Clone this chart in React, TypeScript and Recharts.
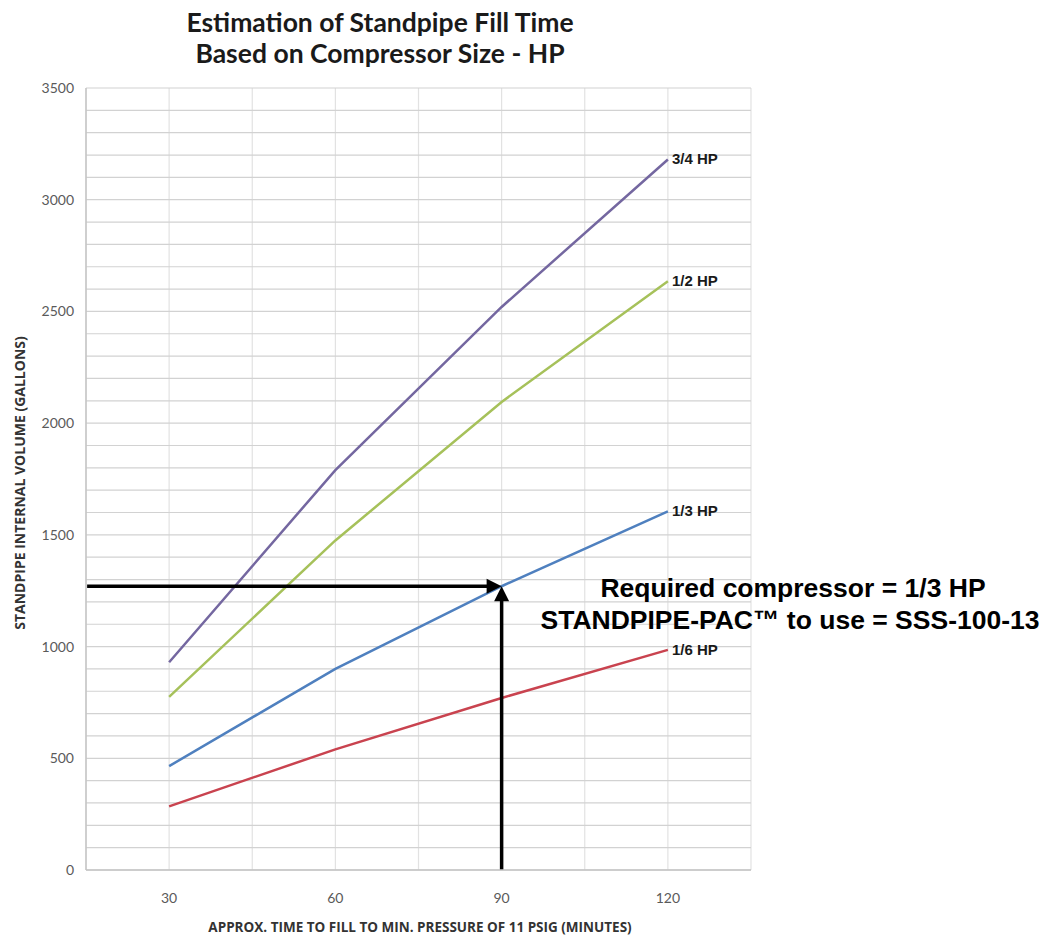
import React from 'react';
import { LineChart, Line, XAxis, YAxis, CartesianGrid, ReferenceLine } from 'recharts';

// ---- data ----
const times = [30, 60, 90, 120];
const hp34 = [930, 1790, 2520, 3180];
const hp12 = [775, 1475, 2095, 2635];
const hp13 = [465, 900, 1270, 1605];
const hp16 = [285, 540, 770, 985];
const seriesNames = ['3/4 HP', '1/2 HP', '1/3 HP', '1/6 HP'];

const xGridTicks = [15, 30, 45, 60, 75, 90, 105, 120, 135];
const xTickLabels = [30, 60, 90, 120];
const yGridTicks = [
  0, 100, 200, 300, 400, 500, 600, 700, 800, 900, 1000, 1100, 1200, 1300, 1400, 1500, 1600, 1700,
  1800, 1900, 2000, 2100, 2200, 2300, 2400, 2500, 2600, 2700, 2800, 2900, 3000, 3100, 3200, 3300,
  3400, 3500,
];
const yTickLabels = [0, 500, 1000, 1500, 2000, 2500, 3000, 3500];

const targetTime = 90;
const targetVolume = 1270;
const chartTitle = ['Estimation of Standpipe Fill Time', 'Based on Compressor Size - HP'];
const xAxisTitle = 'APPROX. TIME TO FILL TO MIN. PRESSURE OF 11 PSIG (MINUTES)';
const yAxisTitle = 'STANDPIPE INTERNAL VOLUME (GALLONS)';
const noteLines = ['Required compressor = 1/3 HP', 'STANDPIPE-PAC\u2122 to use = SSS-100-13'];

const rows = times.map((t, i) => ({
  time: t,
  hp34: hp34[i],
  hp12: hp12[i],
  hp13: hp13[i],
  hp16: hp16[i],
}));

const W = 1043;
const H = 933;
const OY = 8; // overlay svg starts at page top

const endLabel = (name: string) => (props: any) => {
  if (props.index !== times.length - 1) return null;
  return (
    <text
      x={props.x + 4}
      y={props.y + 5}
      fontFamily="'Liberation Sans', Arial, sans-serif"
      fontWeight="bold"
      fontSize={15}
      fill="#1a1a1a"
    >
      {name}
    </text>
  );
};

const Arrow = (props: any) => {
  const { x1, y1, x2, y2 } = props;
  const dx = x2 - x1;
  const dy = y2 - y1;
  const len = Math.hypot(dx, dy) || 1;
  const ux = dx / len;
  const uy = dy / len;
  const head = 15;
  const hw = 7.5;
  const bx = x2 - ux * head;
  const by = y2 - uy * head;
  const px = -uy;
  const py = ux;
  return (
    <g>
      <line x1={x1} y1={y1} x2={bx + ux * 2} y2={by + uy * 2} stroke="#000" strokeWidth={3.5} />
      <polygon
        points={`${x2},${y2} ${bx + px * hw},${by + py * hw} ${bx - px * hw},${by - py * hw}`}
        fill="#000"
      />
    </g>
  );
};

export default function App() {
  return (
    <div style={{ position: 'relative', width: W, height: H }}>
      <LineChart width={W} height={H} data={rows} margin={{ top: 80, right: 300, bottom: 0, left: 0 }}>
        <CartesianGrid horizontal={false} stroke="#e2e2e2" strokeWidth={1.2} />
        <CartesianGrid vertical={false} stroke="#d2d2d2" strokeWidth={1.2} />
        <XAxis
          dataKey="time"
          type="number"
          domain={[15, 135]}
          ticks={xGridTicks}
          interval={0}
          tickFormatter={(v: number) => (xTickLabels.includes(v) ? String(v) : '')}
          tickLine={false}
          tickSize={0}
          tickMargin={23}
          height={71}
          axisLine={{ stroke: '#c4c4c4', strokeWidth: 1.5 }}
          tick={{ fontFamily: 'Lato, sans-serif', fontSize: 14, fill: '#5a5a5a' }}
        />
        <YAxis
          type="number"
          domain={[0, 3500]}
          ticks={yGridTicks}
          interval={0}
          tickFormatter={(v: number) => (yTickLabels.includes(v) ? String(v) : '')}
          tickLine={false}
          tickSize={0}
          tickMargin={12}
          width={78}
          axisLine={{ stroke: '#c4c4c4', strokeWidth: 1.5 }}
          tick={{ fontFamily: 'Lato, sans-serif', fontSize: 14, fill: '#5a5a5a' }}
        />
        <Line dataKey="hp34" stroke="#7467a0" strokeWidth={2.5} dot={false} isAnimationActive={false} label={endLabel(seriesNames[0])} />
        <Line dataKey="hp12" stroke="#a6c15a" strokeWidth={2.5} dot={false} isAnimationActive={false} label={endLabel(seriesNames[1])} />
        <Line dataKey="hp13" stroke="#4f80bf" strokeWidth={2.5} dot={false} isAnimationActive={false} label={endLabel(seriesNames[2])} />
        <Line dataKey="hp16" stroke="#c9434f" strokeWidth={2.5} dot={false} isAnimationActive={false} label={endLabel(seriesNames[3])} />
        <ReferenceLine
          segment={[{ x: 15.2, y: targetVolume }, { x: targetTime, y: targetVolume }]}
          shape={Arrow}
          ifOverflow="extendDomain"
        />
        <ReferenceLine
          segment={[{ x: targetTime, y: 0 }, { x: targetTime, y: targetVolume }]}
          shape={Arrow}
          ifOverflow="extendDomain"
        />
      </LineChart>
      <svg
        width={W}
        height={H + OY}
        style={{ position: 'absolute', left: 0, top: -OY, pointerEvents: 'none', overflow: 'visible' }}
      >
        <text
          x={372}
          y={24 + OY}
          textAnchor="middle"
          fontFamily="Lato, sans-serif"
          fontWeight="bold"
          fontSize={26.5}
          fill="#1a1a1a"
        >
          {chartTitle[0]}
        </text>
        <text
          x={372}
          y={55 + OY}
          textAnchor="middle"
          fontFamily="Lato, sans-serif"
          fontWeight="bold"
          fontSize={26.5}
          fill="#1a1a1a"
        >
          {chartTitle[1]}
        </text>
        <text
          x={412}
          y={924 + OY}
          textAnchor="middle"
          fontFamily="'Open Sans', sans-serif"
          fontWeight="bold"
          fontSize={13.5}
          fill="#333"
        >
          {xAxisTitle}
        </text>
        <text
          transform={`translate(17,${475 + OY}) rotate(-90)`}
          textAnchor="middle"
          fontFamily="'Open Sans', sans-serif"
          fontWeight="bold"
          fontSize={14}
          fill="#333"
        >
          {yAxisTitle}
        </text>
        <text
          x={785}
          y={589 + OY}
          textAnchor="middle"
          fontFamily="'Liberation Sans', Arial, sans-serif"
          fontWeight="bold"
          fontSize={26.5}
          fill="#000"
        >
          {noteLines[0]}
        </text>
        <text
          x={782}
          y={621 + OY}
          textAnchor="middle"
          fontFamily="'Liberation Sans', Arial, sans-serif"
          fontWeight="bold"
          fontSize={26.5}
          fill="#000"
        >
          {noteLines[1]}
        </text>
      </svg>
    </div>
  );
}
